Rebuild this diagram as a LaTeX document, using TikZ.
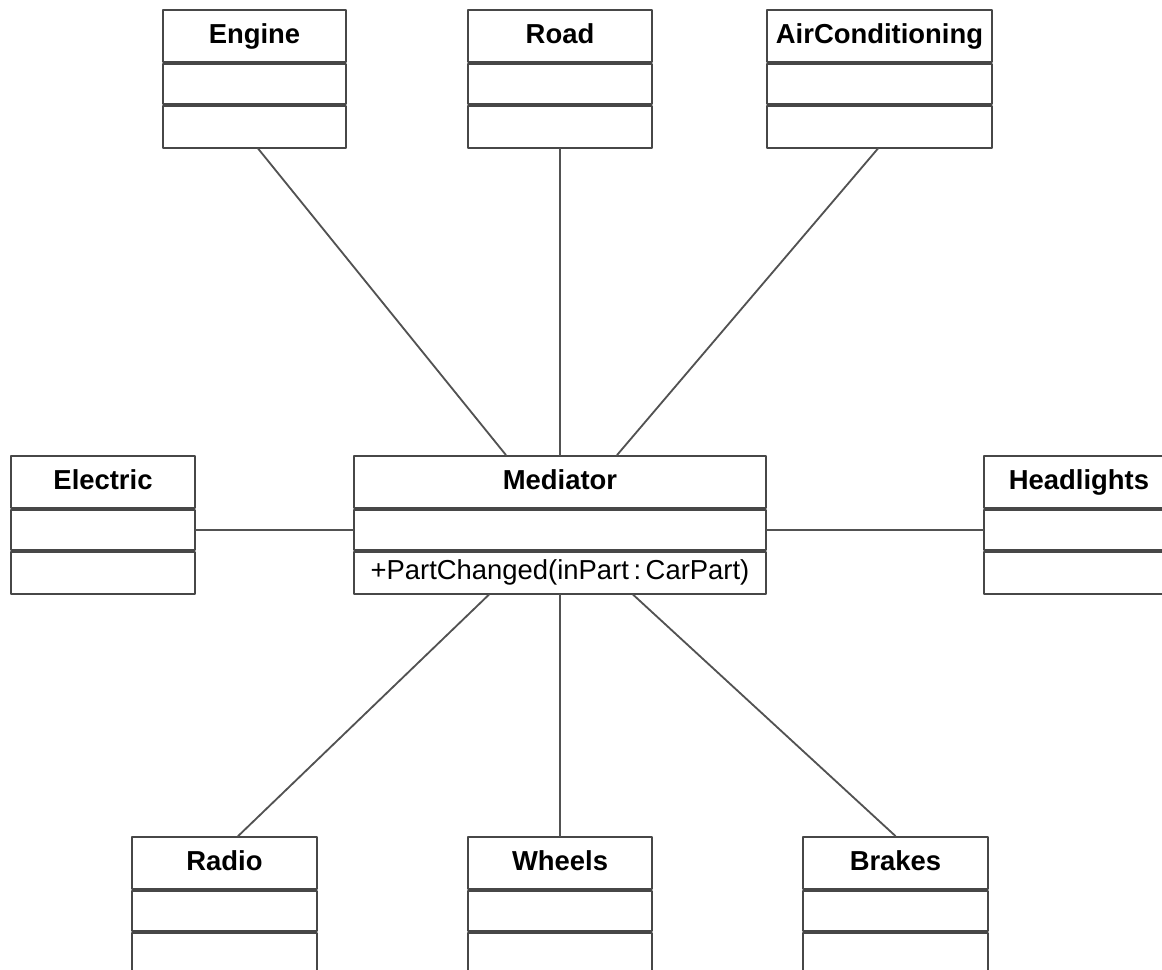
\documentclass[tikz,border=0pt]{standalone}
\usepackage{fontspec}
\setmainfont{Liberation Sans}
\usetikzlibrary{positioning}

\begin{document}
\begin{tikzpicture}[
    x=0.025cm, y=-0.025cm,  % one unit = one pixel of the layout, y downwards
    font=\fontsize{19.5}{23}\selectfont,
    line cap=round,
    line join=round,
    classname/.style={draw=black!72, line width=1.3pt, inner sep=0pt,
                      text height=14.2pt, text depth=4.1pt,
                      minimum width=#1, minimum height=1.3cm, font=\fontsize{19.5}{23}\selectfont\bfseries},
    compart/.style={draw=black!72, line width=1.3pt, inner sep=0pt,
                    minimum width=#1, minimum height=1cm},
    opcompart/.style={compart=#1, minimum height=1.05cm},
    assoc/.style={draw=black!68, line width=1.3pt}
]
\useasboundingbox (0,0) rectangle (1162,970);
\clip (0,0) rectangle (1162,970);

%-----------------------
% 1) TOP ROW
%-----------------------
\node[classname=4.575cm] (engine) at (254.5,36) {Engine};
\node[compart=4.575cm, below=0pt of engine] (engine-a) {};
\node[opcompart=4.575cm, below=0pt of engine-a] (engine-o) {};

\node[classname=4.6cm] (road) at (560,36) {Road};
\node[compart=4.6cm, below=0pt of road] (road-a) {};
\node[opcompart=4.6cm, below=0pt of road-a] (road-o) {};

\node[classname=5.625cm] (aircon) at (879.5,36) {AirConditioning};
\node[compart=5.625cm, below=0pt of aircon] (aircon-a) {};
\node[opcompart=5.625cm, below=0pt of aircon-a] (aircon-o) {};

%-----------------------
% 2) MIDDLE ROW
%-----------------------
\node[classname=4.6cm] (electric) at (103,482) {Electric};
\node[compart=4.6cm, below=0pt of electric] (electric-a) {};
\node[opcompart=4.6cm, below=0pt of electric-a] (electric-o) {};

\node[classname=10.3cm] (med) at (560,482) {Mediator};
\node[compart=10.3cm, below=0pt of med] (med-a) {};
\node[opcompart=10.3cm, below=0pt of med-a] (med-o) {+PartChanged(inPart\,:\,CarPart)};

\node[classname=4.75cm] (head) at (1079,482) {Headlights};
\node[compart=4.75cm, below=0pt of head] (head-a) {};
\node[opcompart=4.75cm, below=0pt of head-a] (head-o) {};

%-----------------------
% 3) BOTTOM ROW
%-----------------------
\node[classname=4.625cm] (radio) at (224.5,863) {Radio};
\node[compart=4.625cm, below=0pt of radio] (radio-a) {};
\node[opcompart=4.625cm, below=0pt of radio-a] (radio-o) {};

\node[classname=4.6cm] (wheels) at (560,863) {Wheels};
\node[compart=4.6cm, below=0pt of wheels] (wheels-a) {};
\node[opcompart=4.6cm, below=0pt of wheels-a] (wheels-o) {};

\node[classname=4.625cm] (brakes) at (895.5,863) {Brakes};
\node[compart=4.625cm, below=0pt of brakes] (brakes-a) {};
\node[opcompart=4.625cm, below=0pt of brakes-a] (brakes-o) {};

%-----------------------
% 4) ASSOCIATIONS TO THE MEDIATOR
%-----------------------
\draw[assoc] ([xshift=0.09cm]engine-o.south) -- ([xshift=-1.35cm]med.north);
\draw[assoc] (road-o.south) -- (med.north);
\draw[assoc] ([xshift=-0.04cm]aircon-o.south) -- ([xshift=1.425cm]med.north);

\draw[assoc] (electric-a.east) -- (med-a.west);
\draw[assoc] (med-a.east) -- (head-a.west);

\draw[assoc] ([xshift=-1.775cm]med-o.south) -- ([xshift=0.34cm]radio.north);
\draw[assoc] (med-o.south) -- (wheels.north);
\draw[assoc] ([xshift=1.825cm]med-o.south) -- (brakes.north);

\end{tikzpicture}
\end{document}
